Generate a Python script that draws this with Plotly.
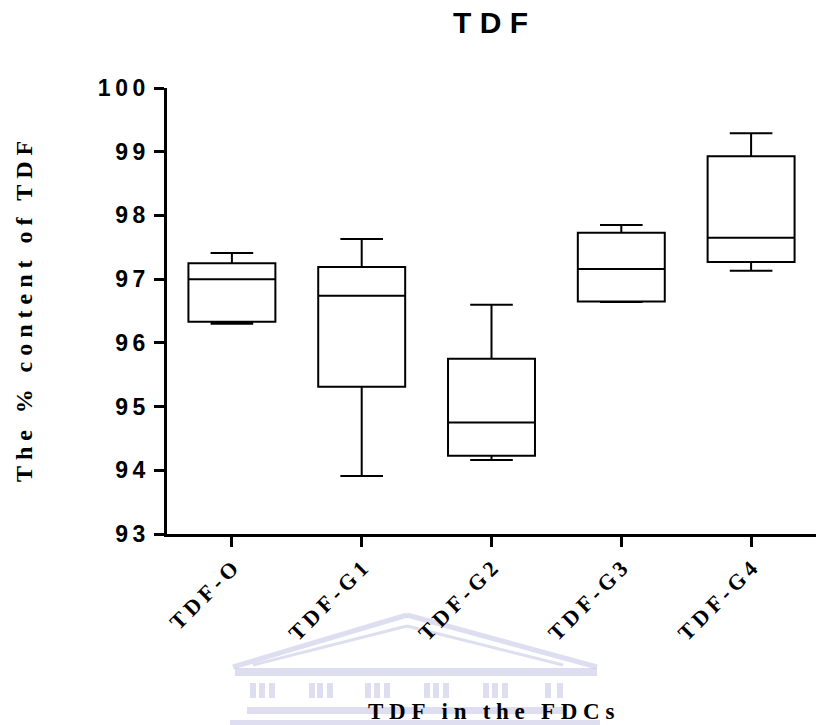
import plotly.graph_objects as go

# ---- data ----
categories = ["TDF-O", "TDF-G1", "TDF-G2", "TDF-G3", "TDF-G4"]
lower_whisker = [96.30, 93.91, 94.16, 96.64, 97.13]
q1_values     = [96.33, 95.31, 94.23, 96.65, 97.27]
medians       = [97.00, 96.74, 94.75, 97.16, 97.65]
q3_values     = [97.25, 97.19, 95.75, 97.73, 98.93]
upper_whisker = [97.41, 97.63, 96.60, 97.85, 99.29]
y_tick_values = [93, 94, 95, 96, 97, 98, 99, 100]

title_text = "TDF"
y_title = "The % content of TDF"
x_title = "TDF in the FDCs"

# ---- helpers for letter-spaced text ----
def spaced(s, gap="\u2005", word="\u2002\u2009"):
    words = s.split(" ")
    return word.join(gap.join(list(w)) for w in words)

y_tick_text = ["\u2009".join(list(str(v))) for v in y_tick_values]
x_tick_text = [spaced(c, gap="\u2009") for c in categories]

W, H = 816, 725
L, R, T, B = 167, 0, 88, 191
PW, PH = W - L - R, H - T - B

def px(x):
    return (x - L) / PW

def py(y):
    return (H - B - y) / PH

fig = go.Figure()
fig.add_trace(go.Box(
    x=categories,
    q1=q1_values, median=medians, q3=q3_values,
    lowerfence=lower_whisker, upperfence=upper_whisker,
    width=0.67, whiskerwidth=0.49,
    line=dict(color="black", width=2),
    fillcolor="rgba(255,255,255,0)",
    boxpoints=False, showlegend=False,
))

# ---- faint watermark (decorative building outline) ----
wm = "rgba(190,190,225,0.5)"
shapes = []
def seg(x0, y0, x1, y1, w):
    shapes.append(dict(type="line", xref="paper", yref="paper",
                       x0=px(x0), y0=py(y0), x1=px(x1), y1=py(y1),
                       line=dict(color=wm, width=w), layer="below"))
def rect(x0, y0, x1, y1):
    shapes.append(dict(type="rect", xref="paper", yref="paper",
                       x0=px(x0), y0=py(y0), x1=px(x1), y1=py(y1),
                       line=dict(width=0), fillcolor=wm, layer="below"))
seg(233, 667, 407, 615, 5); seg(407, 615, 597, 667, 5)
seg(253, 665, 407, 626, 3); seg(407, 626, 563, 665, 3)
rect(235, 668, 597, 676)
for cx in [253, 262, 272, 312, 320, 330, 368, 377, 387, 427, 436, 446, 486, 495, 505, 548, 560]:
    rect(cx - 3, 683, cx + 3, 698)
rect(247, 707, 567, 714)
rect(230, 720, 600, 725)

fig.update_layout(
    width=W, height=H,
    margin=dict(l=L, r=R, t=T, b=B, pad=0),
    paper_bgcolor="white", plot_bgcolor="white",
    shapes=shapes,
    xaxis=dict(
        range=[-0.5, 4.5], showgrid=False, zeroline=False,
        showline=True, linecolor="black", linewidth=3,
        ticks="outside", ticklen=10, tickwidth=3, tickcolor="black",
        tickmode="array", tickvals=categories, ticktext=x_tick_text,
        tickangle=-45, ticklabelstandoff=0,
        tickfont=dict(family="Liberation Serif, Times New Roman, serif",
                      size=22, color="black", weight="bold"),
        automargin=False, fixedrange=True,
    ),
    yaxis=dict(
        range=[93, 100], showgrid=False, zeroline=False,
        showline=True, linecolor="black", linewidth=3,
        ticks="outside", ticklen=10, tickwidth=3, tickcolor="black",
        tickmode="array", tickvals=y_tick_values, ticktext=y_tick_text,
        ticklabelstandoff=4,
        tickfont=dict(family="Liberation Sans, Arial, sans-serif",
                      size=23, color="black", weight="bold"),
        automargin=False, fixedrange=True,
    ),
    annotations=[
        dict(text=" ".join(list(title_text)), xref="paper", yref="paper",
             x=px(490), y=py(23), xanchor="center", yanchor="middle", showarrow=False,
             font=dict(family="Liberation Sans, Arial, sans-serif", size=30,
                       color="black", weight="bold")),
        dict(text=spaced(y_title), xref="paper", yref="paper",
             x=px(24), y=py(312), xanchor="center", yanchor="middle", showarrow=False,
             textangle=-90,
             font=dict(family="Liberation Serif, Times New Roman, serif", size=24,
                       color="black", weight="bold")),
        dict(text=spaced(x_title), xref="paper", yref="paper",
             x=px(491), y=py(711), xanchor="center", yanchor="middle", showarrow=False,
             font=dict(family="Liberation Serif, Times New Roman, serif", size=23,
                       color="black", weight="bold")),
    ],
)

fig.write_html("out.html", config={"displayModeBar": False},
               post_script="document.body.style.margin='0';document.body.style.overflow='hidden';")
